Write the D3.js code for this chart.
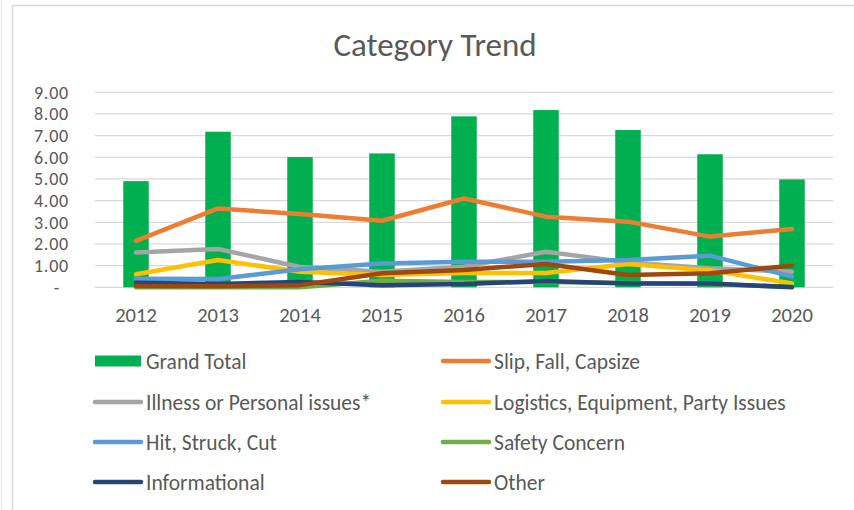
<!DOCTYPE html>
<html>
<head>
<meta charset="utf-8">
<script src="https://cdn.jsdelivr.net/npm/d3@7"></script>
<style>
  body { margin: 0; background: #fff; }
  text { font-family: Carlito, Calibri, Lato, sans-serif; fill: #595959; }
</style>
</head>
<body>
<div id="chart"></div>
<script>
var years = ["2012", "2013", "2014", "2015", "2016", "2017", "2018", "2019", "2020"];
var yTicks = [0, 1, 2, 3, 4, 5, 6, 7, 8, 9];

var grandTotal    = [4.90, 7.18, 6.01, 6.18, 7.89, 8.18, 7.26, 6.14, 4.98];
var slipFall      = [2.14, 3.64, 3.38, 3.07, 4.10, 3.26, 3.03, 2.34, 2.69];
var illness       = [1.61, 1.77, 0.94, 0.72, 0.95, 1.64, 1.15, 0.88, 0.72];
var logistics     = [0.60, 1.26, 0.72, 0.57, 0.66, 0.66, 1.08, 0.78, 0.18];
var hitStruck     = [0.40, 0.38, 0.83, 1.10, 1.18, 1.18, 1.26, 1.46, 0.49];
var safety        = [0.00, 0.00, 0.00, 0.30, 0.25, 0.25, 0.20, 0.15, 0.02];
var informational = [0.21, 0.15, 0.25, 0.10, 0.15, 0.29, 0.18, 0.18, 0.00];
var other         = [0.06, 0.05, 0.10, 0.65, 0.80, 1.08, 0.57, 0.65, 1.00];

var lineSeries = [
  {name: "Slip, Fall, Capsize", values: slipFall, color: "#ed7d31"},
  {name: "Illness or Personal issues*", values: illness, color: "#a5a5a5"},
  {name: "Logistics, Equipment, Party Issues", values: logistics, color: "#ffc000"},
  {name: "Hit, Struck, Cut", values: hitStruck, color: "#5b9bd5"},
  {name: "Safety Concern", values: safety, color: "#70ad47"},
  {name: "Informational", values: informational, color: "#264478"},
  {name: "Other", values: other, color: "#9e480e"}
];

var W = 854, H = 510;
var svg = d3.select("#chart").append("svg")
  .attr("width", W)
  .attr("height", H);

// outer chart frame
svg.append("rect")
  .attr("x", 12.5).attr("y", 5.5)
  .attr("width", 900).attr("height", 600)
  .attr("fill", "#fff")
  .attr("stroke", "#d9d9d9")
  .attr("stroke-width", 1.5);
svg.append("line")
  .attr("x1", 1.5).attr("x2", 1.5).attr("y1", 0).attr("y2", H)
  .attr("stroke", "#e3e3e3");

svg.append("text")
  .attr("x", 435).attr("y", 56)
  .attr("text-anchor", "middle")
  .style("font-size", "33px")
  .text("Category Trend");

var x = d3.scaleBand()
  .domain(years)
  .range([95, 833]);

var y = d3.scaleLinear()
  .domain([0, 9])
  .range([287.3, 92.3]);

// gridlines
svg.append("g")
  .selectAll("line")
  .data(yTicks)
  .enter()
  .append("line")
    .attr("x1", 95).attr("x2", 833)
    .attr("y1", function(d) { return y(d) })
    .attr("y2", function(d) { return y(d) })
    .attr("stroke", "#d9d9d9")
    .attr("stroke-width", 1.3);

// y labels
svg.append("g")
  .selectAll("text")
  .data(yTicks)
  .enter()
  .append("text")
    .attr("x", function(d) { return d === 0 ? 57 : 69 })
    .attr("y", function(d) { return y(d) + 6.5 })
    .attr("text-anchor", function(d) { return d === 0 ? "middle" : "end" })
    .style("font-size", "18px")
    .style("letter-spacing", "0.8px")
    .text(function(d) { return d === 0 ? "-" : d.toFixed(2) });

// x labels
svg.append("g")
  .selectAll("text")
  .data(years)
  .enter()
  .append("text")
    .attr("x", function(d) { return x(d) + x.bandwidth() / 2 })
    .attr("y", 322)
    .attr("text-anchor", "middle")
    .style("font-size", "20.5px")
    .text(function(d) { return d });

// bars
var barW = 25.5;
svg.append("g")
  .selectAll("rect")
  .data(grandTotal)
  .enter()
  .append("rect")
    .attr("x", function(d, i) { return x(years[i]) + x.bandwidth() / 2 - barW / 2 })
    .attr("y", function(d) { return y(d) })
    .attr("width", barW)
    .attr("height", function(d) { return y(0) - y(d) })
    .attr("fill", "#00b050");

// lines
var line = d3.line()
  .x(function(d, i) { return x(years[i]) + x.bandwidth() / 2 })
  .y(function(d) { return y(d) });

svg.append("g")
  .selectAll("path")
  .data(lineSeries)
  .enter()
  .append("path")
    .attr("d", function(d) { return line(d.values) })
    .attr("fill", "none")
    .attr("stroke", function(d) { return d.color })
    .attr("stroke-width", 4.5)
    .attr("stroke-linecap", "round")
    .attr("stroke-linejoin", "round");

// legend
var legendItems = [{name: "Grand Total", color: "#00b050", bar: true}].concat(lineSeries);
var rowY = [361, 402, 442, 482];
var colX = [93, 441];

var leg = svg.append("g")
  .selectAll("g")
  .data(legendItems)
  .enter()
  .append("g")
    .attr("transform", function(d, i) {
      return "translate(" + colX[i % 2] + "," + rowY[Math.floor(i / 2)] + ")";
    });

leg.filter(function(d) { return d.bar })
  .append("rect")
    .attr("x", 2).attr("y", -5.5)
    .attr("width", 46).attr("height", 11)
    .attr("fill", function(d) { return d.color });

leg.filter(function(d) { return !d.bar })
  .append("line")
    .attr("x1", 2).attr("x2", 48)
    .attr("y1", 0).attr("y2", 0)
    .attr("stroke", function(d) { return d.color })
    .attr("stroke-width", 4.5)
    .attr("stroke-linecap", "round");

leg.append("text")
  .attr("x", 53)
  .attr("y", 8)
  .style("font-size", "21.5px")
  .text(function(d) { return d.name });
</script>
</body>
</html>
